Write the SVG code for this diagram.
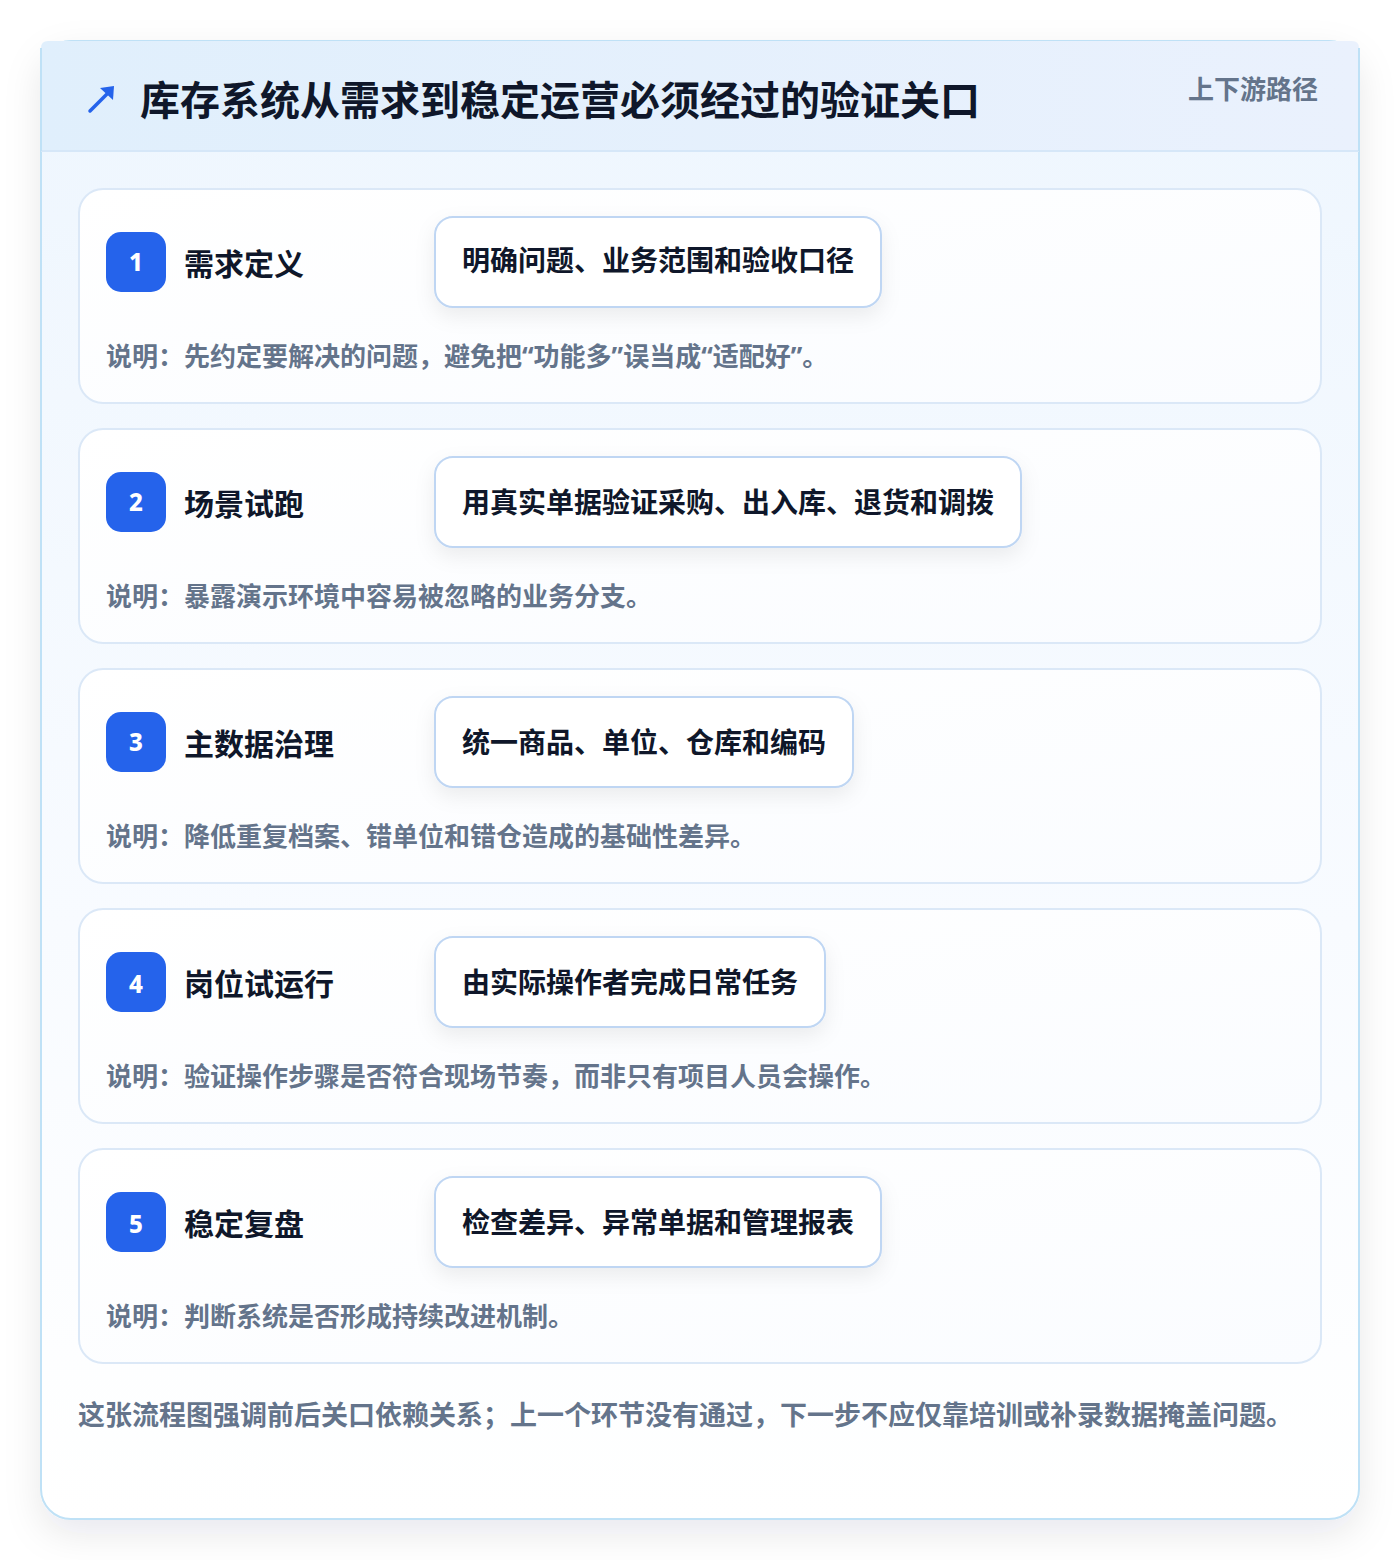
<svg xmlns="http://www.w3.org/2000/svg" width="1400" height="1560" viewBox="0 0 1400 1560">
<defs>
<style>
.t{font-family:"Noto Sans","Noto Sans CJK SC","Liberation Sans",sans-serif;font-weight:700}
.title{font-size:40px;fill:#0f172a}
.sub{font-size:26px;fill:#64748b}
.num{font-size:24px;fill:#ffffff;font-weight:800}
.name{font-size:30px;fill:#0f172a}
.pilltxt{font-size:28px;fill:#0f172a}
.desc{font-size:26px;fill:#64748b}
.foot{font-size:27px;fill:#64748b}
.card{fill:url(#cardg);stroke:#dbe8f7;stroke-width:2}
.badge{fill:#2563eb}
.pill{fill:#ffffff;stroke:#bfd6f3;stroke-width:2}
</style>
<linearGradient id="bodyg" x1="0" y1="0" x2="0" y2="1">
<stop offset="0" stop-color="#eef6fe"/>
<stop offset="0.6" stop-color="#f8fbff"/>
<stop offset="1" stop-color="#ffffff"/>
</linearGradient>
<linearGradient id="headg" x1="0" y1="0" x2="1" y2="0">
<stop offset="0" stop-color="#e0effc"/>
<stop offset="1" stop-color="#eaf1fd"/>
</linearGradient>
<linearGradient id="cardg" x1="0" y1="0" x2="1" y2="1">
<stop offset="0" stop-color="#ffffff"/>
<stop offset="1" stop-color="#fafcff"/>
</linearGradient>
<filter id="sh" x="-10%" y="-10%" width="120%" height="120%">
<feDropShadow dx="0" dy="14" stdDeviation="18" flood-color="#0f172a" flood-opacity="0.09"/>
</filter>
<filter id="psh" x="-20%" y="-40%" width="140%" height="190%">
<feDropShadow dx="0" dy="8" stdDeviation="10" flood-color="#0f172a" flood-opacity="0.07"/>
</filter>
</defs>
<rect x="0" y="0" width="1400" height="1560" fill="#ffffff"/>
<g id="frame">
<rect x="41" y="41" width="1318" height="1478" rx="30" fill="url(#bodyg)" stroke="#bfe1f6" stroke-width="2" filter="url(#sh)"/>
<path d="M41 151 V48 Q41 41 48 41 H1352 Q1359 41 1359 48 V151 Z" fill="url(#headg)"/>
<line x1="41" y1="151" x2="1359" y2="151" stroke="#d6e7f8" stroke-width="2"/>
<line x1="41" y1="48" x2="41" y2="151" stroke="#bfe1f6" stroke-width="2"/>
<line x1="1359" y1="48" x2="1359" y2="151" stroke="#bfe1f6" stroke-width="2"/>
</g>
<g id="header">
<g stroke="#2563eb" stroke-width="3.5" fill="none" stroke-linecap="round">
<line x1="90" y1="111" x2="111" y2="90"/>
</g>
<path d="M114 86 L113 100 L100 88 Z" fill="#2563eb"/>
<text class="t title" x="140" y="115">库存系统从需求到稳定运营必须经过的验证关口</text>
<text class="t sub" x="1318" y="99" text-anchor="end">上下游路径</text>
</g>
<g id="step1">
<rect class="card" x="79" y="189" width="1242" height="214" rx="24"/>
<rect class="badge" x="106" y="232" width="60" height="60" rx="15"/>
<text class="t num" x="136" y="271" text-anchor="middle">1</text>
<text class="t name" x="184" y="275">需求定义</text>
<rect class="pill" x="435" y="217" width="446" height="90" rx="18" filter="url(#psh)"/>
<text class="t pilltxt" x="462" y="271">明确问题、业务范围和验收口径</text>
<text class="t desc" x="106" y="366">说明：先约定要解决的问题，避免把“功能多”误当成“适配好”。</text>
</g>
<g id="step2">
<rect class="card" x="79" y="429" width="1242" height="214" rx="24"/>
<rect class="badge" x="106" y="472" width="60" height="60" rx="15"/>
<text class="t num" x="136" y="511" text-anchor="middle">2</text>
<text class="t name" x="184" y="515">场景试跑</text>
<rect class="pill" x="435" y="457" width="586" height="90" rx="18" filter="url(#psh)"/>
<text class="t pilltxt" x="462" y="513">用真实单据验证采购、出入库、退货和调拨</text>
<text class="t desc" x="106" y="606">说明：暴露演示环境中容易被忽略的业务分支。</text>
</g>
<g id="step3">
<rect class="card" x="79" y="669" width="1242" height="214" rx="24"/>
<rect class="badge" x="106" y="712" width="60" height="60" rx="15"/>
<text class="t num" x="136" y="751" text-anchor="middle">3</text>
<text class="t name" x="184" y="755">主数据治理</text>
<rect class="pill" x="435" y="697" width="418" height="90" rx="18" filter="url(#psh)"/>
<text class="t pilltxt" x="462" y="753">统一商品、单位、仓库和编码</text>
<text class="t desc" x="106" y="846">说明：降低重复档案、错单位和错仓造成的基础性差异。</text>
</g>
<g id="step4">
<rect class="card" x="79" y="909" width="1242" height="214" rx="24"/>
<rect class="badge" x="106" y="952" width="60" height="60" rx="15"/>
<text class="t num" x="136" y="993" text-anchor="middle">4</text>
<text class="t name" x="184" y="995">岗位试运行</text>
<rect class="pill" x="435" y="937" width="390" height="90" rx="18" filter="url(#psh)"/>
<text class="t pilltxt" x="462" y="993">由实际操作者完成日常任务</text>
<text class="t desc" x="106" y="1086">说明：验证操作步骤是否符合现场节奏，而非只有项目人员会操作。</text>
</g>
<g id="step5">
<rect class="card" x="79" y="1149" width="1242" height="214" rx="24"/>
<rect class="badge" x="106" y="1192" width="60" height="60" rx="15"/>
<text class="t num" x="136" y="1233" text-anchor="middle">5</text>
<text class="t name" x="184" y="1235">稳定复盘</text>
<rect class="pill" x="435" y="1177" width="446" height="90" rx="18" filter="url(#psh)"/>
<text class="t pilltxt" x="462" y="1233">检查差异、异常单据和管理报表</text>
<text class="t desc" x="106" y="1326">说明：判断系统是否形成持续改进机制。</text>
</g>
<g id="connectors"></g>
<text class="t foot" x="78" y="1425">这张流程图强调前后关口依赖关系；上一个环节没有通过，下一步不应仅靠培训或补录数据掩盖问题。</text>
</svg>
